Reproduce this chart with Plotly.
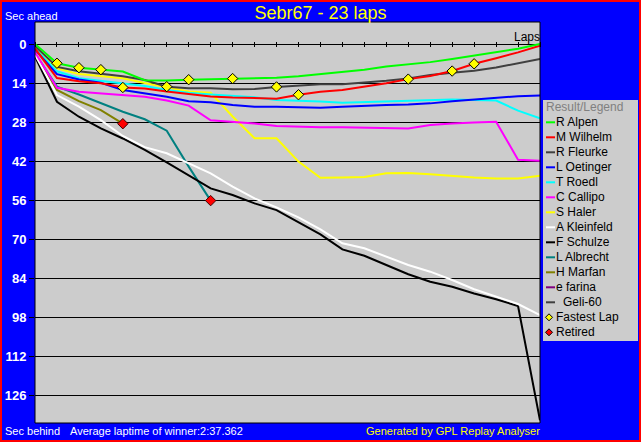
import plotly.graph_objects as go

# seconds behind (positive = behind) per lap
laps = list(range(24))

r_alpen = [0.0, 6.9, 8.5, 9.2, 9.9, 13.0, 13.1, 12.8, 12.6, 12.4, 12.3, 12.1, 11.6, 10.8, 10.1, 9.2, 8.1, 7.4, 6.5, 5.4, 4.2, 3.0, 1.7, 0.0]
m_wilhelm = [1.6, 12.2, 13.4, 14.1, 15.6, 16.0, 17.0, 18.0, 18.8, 19.2, 19.5, 19.6, 18.2, 17.1, 16.5, 15.3, 14.1, 12.6, 11.5, 9.7, 7.1, 5.1, 3.0, 0.6]
r_fleurke = [0.7, 8.2, 9.8, 10.7, 11.6, 12.9, 15.3, 15.9, 15.9, 16.2, 16.1, 15.4, 15.0, 14.4, 14.4, 13.9, 13.2, 12.4, 11.1, 10.3, 9.6, 8.4, 6.9, 5.4]
l_oetinger = [2.0, 10.8, 12.7, 13.9, 16.5, 17.7, 18.9, 20.5, 20.9, 21.9, 22.5, 22.5, 22.7, 22.9, 22.5, 22.1, 21.9, 21.7, 21.3, 20.5, 19.9, 19.5, 18.7, 18.5]
t_roedl = [1.5, 9.8, 12.3, 13.2, 14.0, 15.1, 16.5, 17.5, 18.1, 18.5, 19.1, 20.1, 20.3, 20.6, 21.1, 20.9, 20.5, 20.3, 20.1, 19.9, 20.1, 20.3, 23.9, 26.7]
c_callipo = [3.0, 15.7, 17.1, 17.7, 18.3, 18.9, 20.3, 22.1, 27.4, 27.9, 28.5, 29.4, 29.7, 29.9, 29.9, 30.1, 30.3, 30.3, 29.1, 28.5, 28.2, 27.9, 41.5, 41.9]
s_haler = [1.0, 8.7, 10.8, 11.5, 12.3, 14.0, 15.6, 17.0, 17.5, 26.0, 33.8, 33.8, 42.2, 48.0, 47.9, 47.7, 46.4, 46.3, 46.7, 47.4, 47.9, 48.3, 48.3, 47.3]
a_kleinfeld = [3.8, 18.3, 22.5, 27.3, 33.0, 37.0, 39.2, 42.8, 46.4, 51.2, 55.4, 58.6, 62.2, 66.5, 71.5, 73.3, 76.3, 79.3, 81.7, 84.7, 88.0, 90.7, 93.3, 97.3]
f_schulze = [4.5, 20.7, 26.1, 30.3, 33.9, 38.0, 42.5, 47.0, 51.8, 54.2, 57.2, 59.6, 63.8, 68.3, 73.7, 76.0, 79.3, 82.6, 85.3, 87.1, 89.5, 91.6, 94.0, 135.0]
l_albrecht = [3.3, 15.3, 18.1, 21.3, 24.3, 27.0, 31.1, 44.0, 56.2]
h_marfan = [3.5, 16.5, 20.5, 23.7, 28.6]
e_farina = []
geli_60 = []

drivers = ["R Alpen", "M Wilhelm", "R Fleurke", "L Oetinger", "T Roedl", "C Callipo", "S Haler",
           "A Kleinfeld", "F Schulze", "L Albrecht", "H Marfan", "e farina", "Geli-60"]
colors = ["#00ff00", "#ff0000", "#404040", "#0000ff", "#00ffff", "#ff00ff", "#ffff00",
          "#ffffff", "#000000", "#008080", "#808000", "#800080", "#404040"]
series = [r_alpen, m_wilhelm, r_fleurke, l_oetinger, t_roedl, c_callipo, s_haler,
          a_kleinfeld, f_schulze, l_albrecht, h_marfan, e_farina, geli_60]

fastest_laps = [("R Alpen", 1), ("R Alpen", 2), ("R Alpen", 3), ("R Alpen", 7), ("R Alpen", 9),
                ("M Wilhelm", 4), ("M Wilhelm", 12), ("M Wilhelm", 17), ("M Wilhelm", 19), ("M Wilhelm", 20),
                ("R Fleurke", 6), ("R Fleurke", 11)]
retired = ["L Albrecht", "H Marfan"]

y_ticks = list(range(0, 127, 14))

# page geometry (pixels) -> paper coordinates
W, H = 641, 442
ML, MR, MT, MB = 35, 101, 22, 19
PW = W - ML - MR
PH = H - MT - MB


def px(x):
    return (x - ML) / PW


def py(y):
    return (H - MB - y) / PH


def label(text, x, y, anchor, color, size):
    return dict(text=text, x=px(x), y=py(y), xref='paper', yref='paper',
                xanchor=anchor, yanchor='middle', showarrow=False,
                font=dict(color=color, size=size))


data = dict(zip(drivers, series))

fig = go.Figure()

for name, color, vals in reversed(list(zip(drivers, colors, series))):
    fig.add_trace(
        go.Scatter(
            x=laps[:len(vals)],
            y=vals,
            mode='lines',
            name=name,
            line=dict(color=color, width=2),
            showlegend=False
        )
    )

fig.add_trace(
    go.Scatter(
        x=[lap for name, lap in fastest_laps],
        y=[data[name][lap] for name, lap in fastest_laps],
        mode='markers',
        name='Fastest Lap',
        marker=dict(symbol='diamond', size=8, color='#ffff00', line=dict(color='#000000', width=1)),
        showlegend=False
    )
)

fig.add_trace(
    go.Scatter(
        x=[len(data[name]) - 1 for name in retired],
        y=[data[name][-1] for name in retired],
        mode='markers',
        name='Retired',
        marker=dict(symbol='diamond', size=8, color='#ff0000', line=dict(color='#400000', width=1)),
        showlegend=False
    )
)

shapes = [
    # plot frame
    dict(type='rect', xref='paper', yref='paper', x0=0, x1=1, y0=0, y1=1,
         line=dict(color='#000000', width=1), layer='above'),
    # red outer border
    dict(type='rect', xref='paper', yref='paper', x0=px(1), x1=px(640), y0=py(441), y1=py(1),
         line=dict(color='#ff0000', width=2), layer='above'),
    # legend box
    dict(type='rect', xref='paper', yref='paper', x0=px(543), x1=px(638), y0=py(341), y1=py(100),
         line=dict(width=0), fillcolor='#cccccc', layer='below'),
]

annotations = [
    label('Result/Legend', 544, 107, 'left', '#808080', 12),
    label('Sec ahead', 3, 16, 'left', '#ffffff', 11),
    label('Laps', 542, 37, 'right', '#000000', 12),
    label('Sec behind', 3, 431, 'left', '#ffffff', 11),
    label('Average laptime of winner:2:37.362', 68, 431, 'left', '#ffffff', 11),
    label('Generated by GPL Replay Analyser', 542, 431, 'right', '#ffff00', 11),
]

for i, (name, color) in enumerate(zip(drivers, colors)):
    yy = 122.3 + 15 * i
    shapes.append(dict(type='line', xref='paper', yref='paper', x0=px(546), x1=px(555),
                       y0=py(yy), y1=py(yy), line=dict(color=color, width=2)))
    text_x = 561 if name == 'Geli-60' else 554
    annotations.append(label(name, text_x, yy, 'left', '#000000', 12))

for j, (text, fill) in enumerate([('Fastest Lap', '#ffff00'), ('Retired', '#ff0000')]):
    yy = 122.3 + 15 * (len(drivers) + j)
    cx, r = 549, 3.5
    path = 'M {},{} L {},{} L {},{} L {},{} Z'.format(
        px(cx - r), py(yy), px(cx), py(yy - r), px(cx + r), py(yy), px(cx), py(yy + r))
    shapes.append(dict(type='path', xref='paper', yref='paper', path=path,
                       fillcolor=fill, line=dict(color='#000000', width=1)))
    annotations.append(label(text, 554, yy, 'left', '#000000', 12))

fig.update_layout(
    width=W,
    height=H,
    margin=dict(l=ML, r=MR, t=MT, b=MB, pad=0, autoexpand=False),
    paper_bgcolor='#0000ff',
    plot_bgcolor='#cccccc',
    font=dict(family='Liberation Sans, Arial, sans-serif'),
    title=dict(text='Sebr67 - 23 laps', x=0.5, xref='container', xanchor='center',
               y=1 - 12.5 / H, yref='container', yanchor='middle',
               font=dict(color='#ffff00', size=18)),
    showlegend=False,
    shapes=shapes,
    annotations=annotations
)

fig.update_xaxes(
    range=[0, 23],
    showgrid=False,
    zeroline=False,
    showline=False,
    automargin=False,
    anchor='free',
    position=py(46.7),
    side='top',
    tickvals=laps,
    ticks='outside',
    ticklen=5,
    tickcolor='#000000',
    showticklabels=False
)

fig.update_yaxes(
    range=[136, -7.9],
    tickvals=y_ticks,
    showgrid=True,
    gridcolor='#000000',
    gridwidth=1,
    zeroline=False,
    showline=False,
    automargin=False,
    ticks='outside',
    ticklen=5,
    tickcolor='#000000',
    tickfont=dict(color='#ffffff', size=13, weight='bold')
)

# the page's default body margin would shift the figure off the window
fig.write_html(
    "out.html",
    config={'displayModeBar': False},
    post_script="document.body.style.margin='0';document.body.style.overflow='hidden';"
)
